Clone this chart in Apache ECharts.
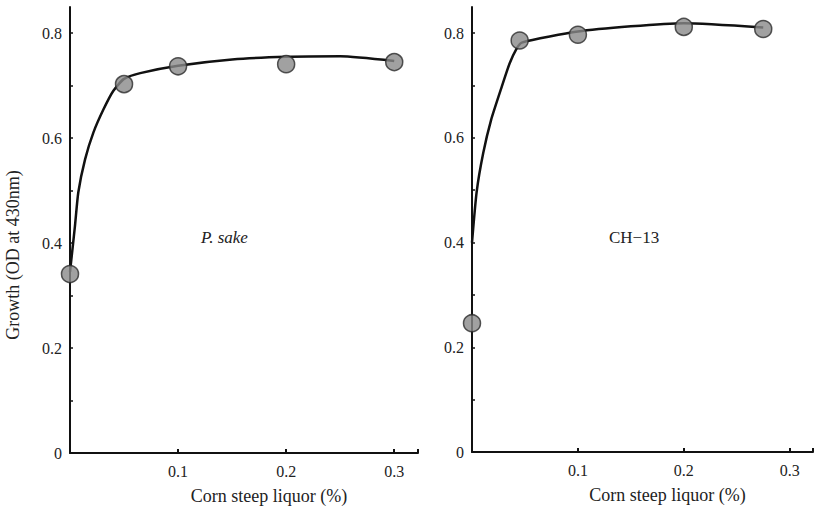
<!DOCTYPE html>
<html>
<head>
<meta charset="utf-8">
<script src="https://cdn.jsdelivr.net/npm/echarts@6/dist/echarts.min.js"></script>
<style>
  html, body { margin: 0; padding: 0; background: #fff; }
  #chart { width: 816px; height: 510px; }
</style>
</head>
<body>
<div id="chart"></div>
<script>
// measured points (x = corn steep liquor %, y = OD at 430nm)
var sakePoints = [[0, 0.341], [0.05, 0.703], [0.1, 0.737], [0.2, 0.741], [0.3, 0.745]];
var ch13Points = [[0, 0.246], [0.045, 0.786], [0.1, 0.797], [0.2, 0.812], [0.275, 0.808]];
// hand-drawn curves
var sakeCurve = [[0, 0.345], [0.0046, 0.433], [0.0077, 0.497], [0.014, 0.56], [0.0217, 0.611],
                 [0.031, 0.655], [0.04, 0.69], [0.05, 0.713], [0.065, 0.724], [0.1, 0.738],
                 [0.15, 0.75], [0.2, 0.755], [0.25, 0.756], [0.3, 0.747]];
var ch13Curve = [[0, 0.4], [0.0044, 0.497], [0.0106, 0.571], [0.018, 0.634], [0.028, 0.697],
                 [0.0355, 0.742], [0.042, 0.77], [0.047, 0.782], [0.1, 0.803], [0.15, 0.813],
                 [0.2, 0.819], [0.275, 0.811]];
var panelNames = ['P. sake', 'CH\u221213'];
var xName = 'Corn steep liquor (%)';
var yName = 'Growth (OD at 430nm)';

var font = '"Liberation Serif", "DejaVu Serif", serif';

var myChart = echarts.init(document.getElementById('chart'), null, { renderer: 'svg' });

function xAxisOpt(idx) {
    return {
        type: 'value',
        gridIndex: idx,
        min: 0,
        max: 0.322,
        interval: 0.1,
        name: xName,
        nameLocation: 'middle',
        nameGap: 34,
        nameTextStyle: { fontFamily: font, fontSize: 18, color: '#222', padding: [0, 0, 0, 50] },
        axisLine: { lineStyle: { color: '#111', width: 2 } },
        axisTick: { inside: true, length: 4, lineStyle: { color: '#111', width: 2 } },
        axisLabel: {
            fontFamily: font, fontSize: 16, color: '#222', margin: 10,
            formatter: function (v) { return (v < 0.05 || v > 0.31) ? '' : v.toFixed(1); }
        },
        splitLine: { show: false }
    };
}

function yAxisOpt(idx) {
    return {
        type: 'value',
        gridIndex: idx,
        min: 0,
        max: 0.85,
        interval: 0.1,
        name: idx == 0 ? yName : '',
        nameLocation: 'middle',
        nameGap: 48,
        nameTextStyle: { fontFamily: font, fontSize: 18, color: '#222', padding: [0, 50, 0, 0] },
        axisLine: { lineStyle: { color: '#111', width: 2 } },
        axisTick: { inside: true, length: 3, lineStyle: { color: '#111', width: 1.5 } },
        axisLabel: {
            fontFamily: font, fontSize: 16, color: '#222', margin: 8, showMaxLabel: false,
            formatter: function (v) {
                var n = Math.round(v * 10);
                if (n % 2 != 0 || v > 0.81) return '';
                return n == 0 ? '0' : v.toFixed(1);
            }
        },
        splitLine: { show: false }
    };
}

function curveSeries(idx, data) {
    return {
        type: 'line',
        xAxisIndex: idx,
        yAxisIndex: idx,
        data: data,
        smooth: 0.2,
        showSymbol: false,
        lineStyle: { color: '#111', width: 2.5 },
        z: 2
    };
}

function pointSeries(idx, data) {
    return {
        type: 'scatter',
        xAxisIndex: idx,
        yAxisIndex: idx,
        data: data,
        symbol: 'circle',
        symbolSize: 17,
        itemStyle: { color: '#8a8a8a', borderColor: '#2a2a2a', borderWidth: 1.5 },
        z: 3
    };
}

var option = {
    backgroundColor: '#fff',
    animation: false,
    title: [
        { text: panelNames[0], left: 196, top: 224,
          textStyle: { fontFamily: font, fontSize: 17, fontStyle: 'italic', fontWeight: 'normal', color: '#222' } },
        { text: panelNames[1], left: 604, top: 224,
          textStyle: { fontFamily: font, fontSize: 17, fontWeight: 'normal', color: '#222' } }
    ],
    grid: [
        { left: 70, top: 7, right: 398, bottom: 56 },
        { left: 472, top: 7, right: 0, bottom: 58 }
    ],
    xAxis: [xAxisOpt(0), xAxisOpt(1)],
    yAxis: [yAxisOpt(0), yAxisOpt(1)],
    series: [
        curveSeries(0, sakeCurve),
        pointSeries(0, sakePoints),
        curveSeries(1, ch13Curve),
        pointSeries(1, ch13Points)
    ]
};
myChart.setOption(option);
</script>
</body>
</html>
